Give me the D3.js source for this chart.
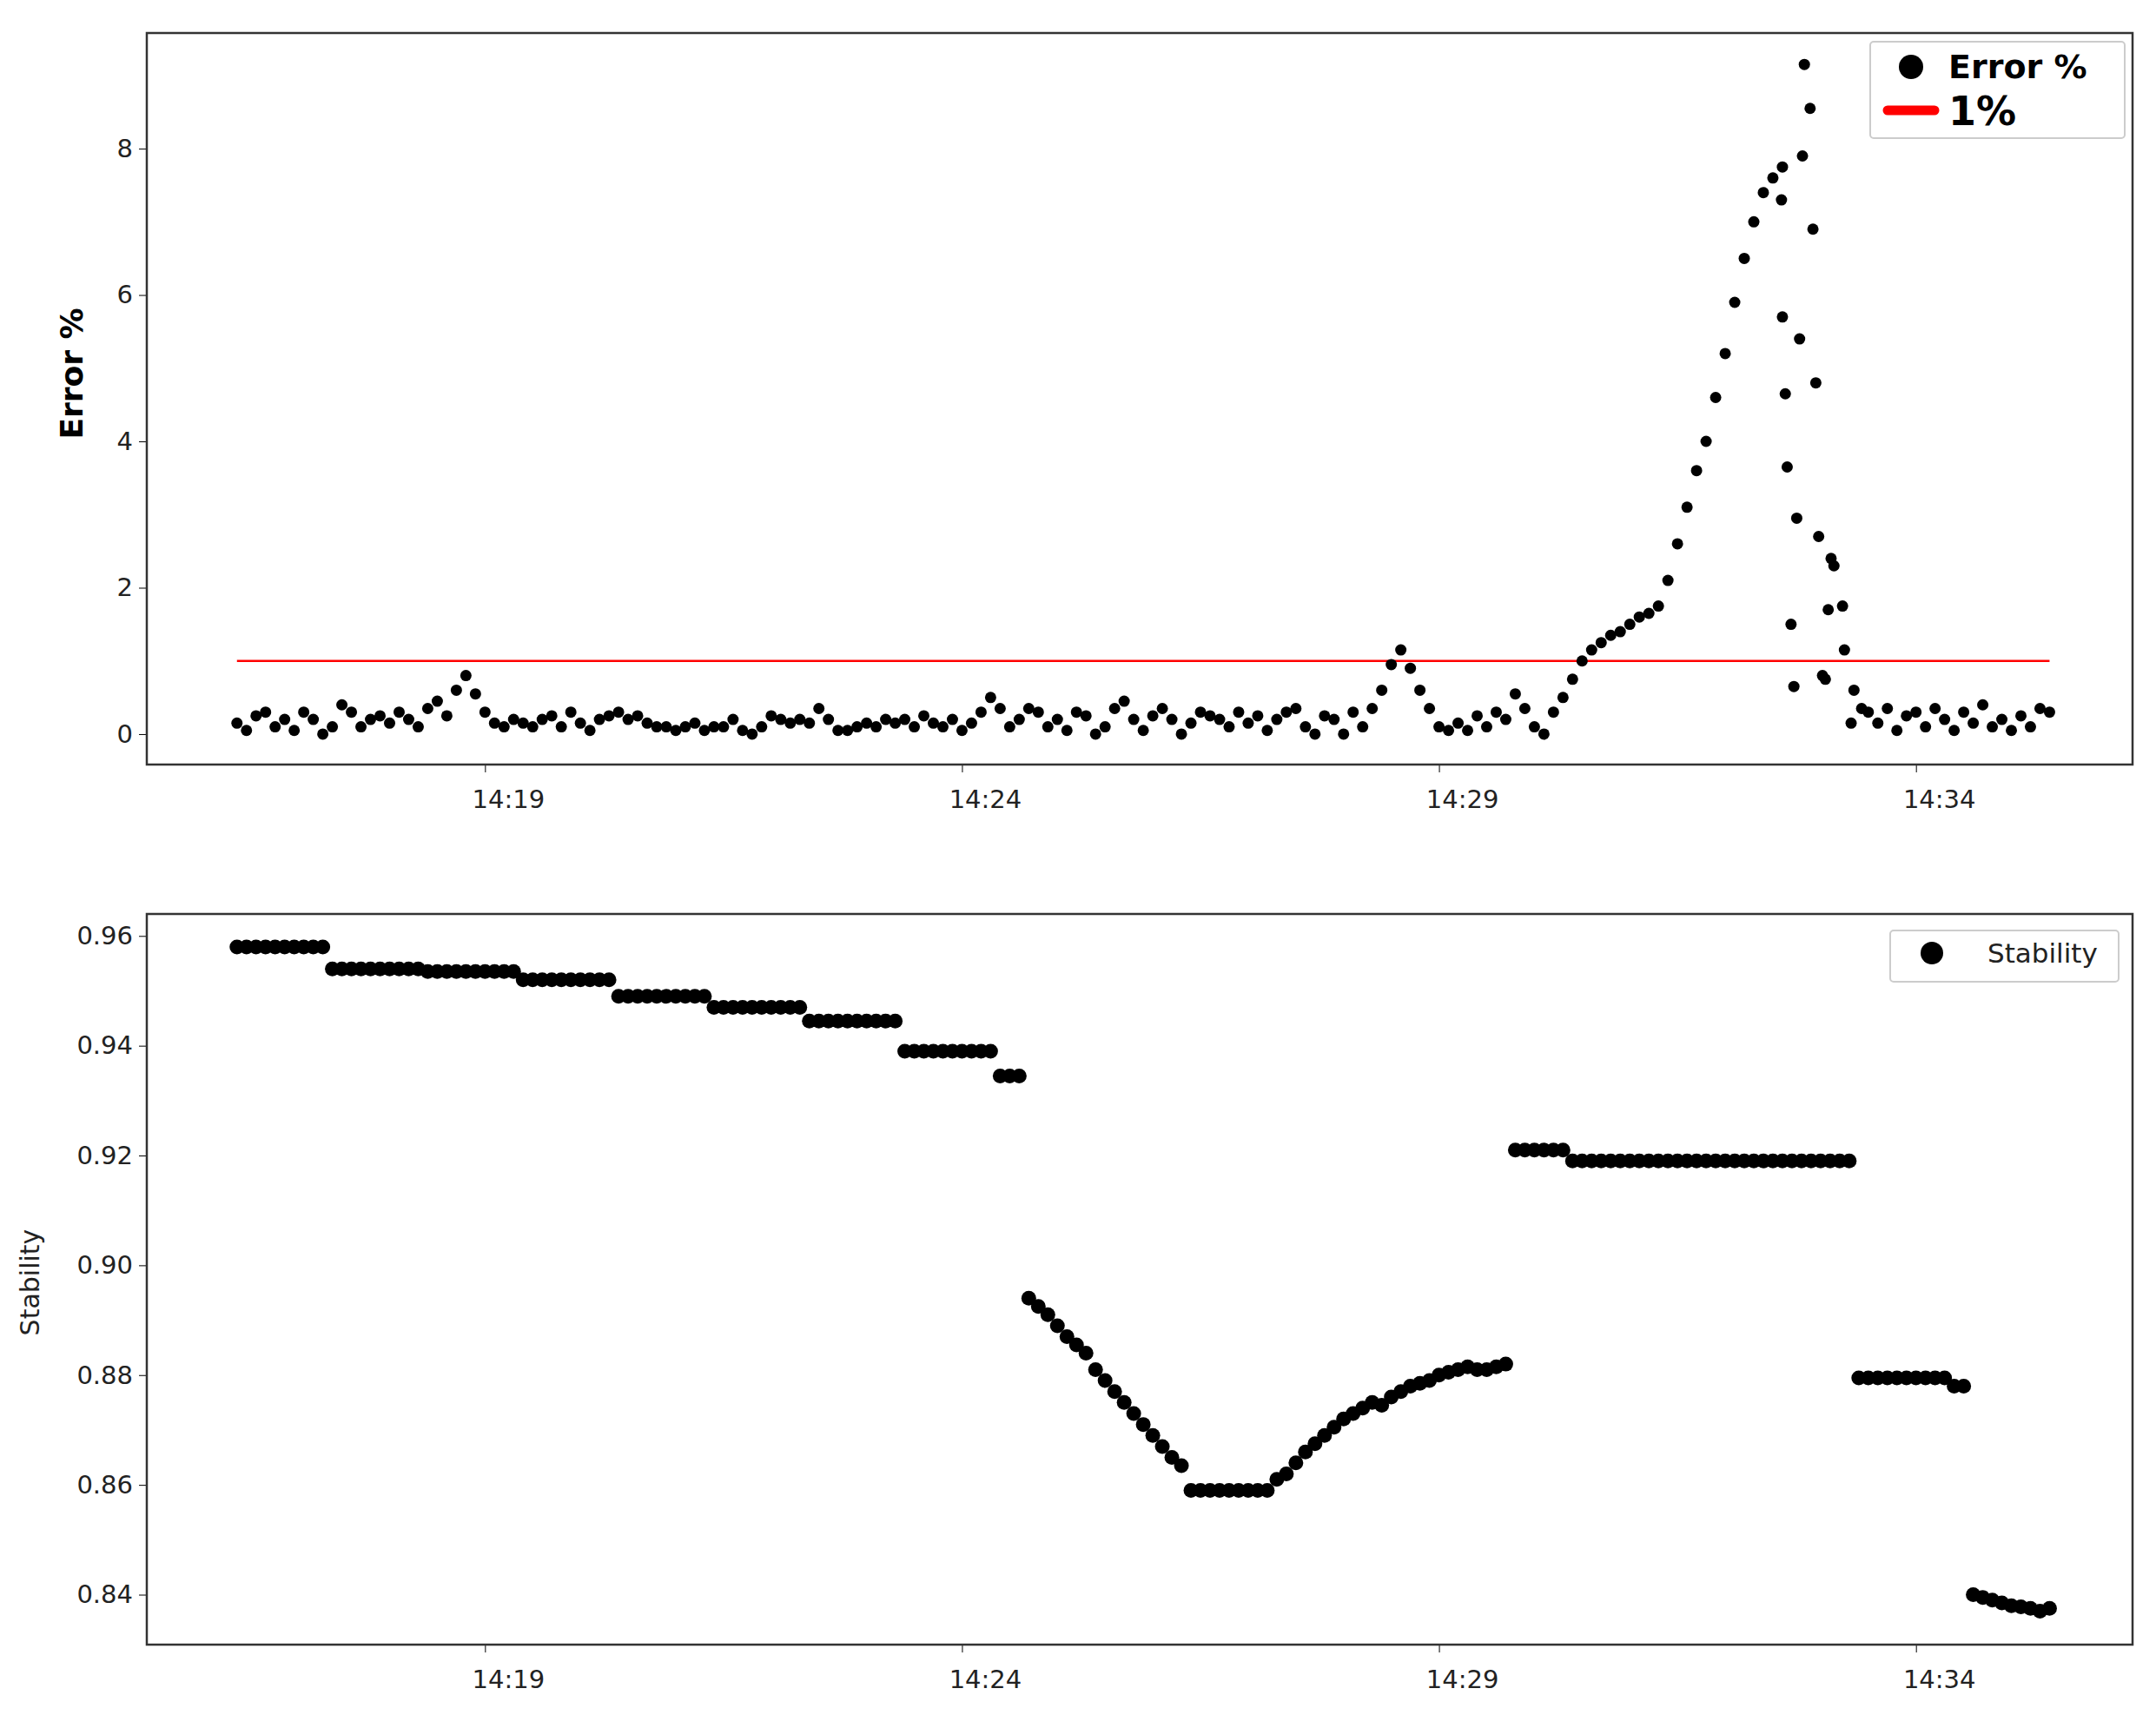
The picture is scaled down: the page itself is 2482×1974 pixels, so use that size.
<!DOCTYPE html>
<html>
<head>
<meta charset="utf-8">
<script src="https://cdn.jsdelivr.net/npm/d3@7"></script>
<style>
body { margin: 0; background: #fff; }
text { font-family: "DejaVu Sans", sans-serif; }
</style>
</head>
<body>
<script>
var width = 2482, height = 1974;
// time axis: minutes after 14:00, one sample every 6 seconds from 14:16.4
var t0 = 16.4, step = 0.1;
var tickMinutes = [19, 24, 29, 34];
var tickLabels = ['14:19', '14:24', '14:29', '14:34'];
var errTicks = [0, 2, 4, 6, 8];
var stabTicks = [0.84, 0.86, 0.88, 0.90, 0.92, 0.94, 0.96];
var threshold = 1;

var errValues = [
	0.15,0.05,0.25,0.3,0.1,0.2,0.05,0.3,0.2,0.0,0.1,0.4,0.3,0.1,0.2,0.25,0.15,0.3,0.2,0.1,0.35,0.45,0.25,
	0.6,0.8,0.55,0.3,
	0.15,0.1,0.2,0.15,0.1,0.2,0.25,0.1,0.3,0.15,0.05,0.2,0.25,0.3,0.2,0.25,0.15,0.1,0.1,0.05,0.1,0.15,0.05,0.1,0.1,0.2,0.05,0.0,0.1,0.25,0.2,0.15,0.2,0.15,
	0.35,0.2,0.05,0.05,0.1,0.15,0.1,0.2,0.15,0.2,0.1,0.25,0.15,0.1,0.2,0.05,0.15,0.3,0.5,0.35,
	0.1,0.2,0.35,0.3,0.1,0.2,0.05,0.3,0.25,0.0,0.1,0.35,0.45,0.2,0.05,0.25,0.35,0.2,0.0,0.15,0.3,0.25,0.2,0.1,0.3,0.15,0.25,0.05,0.2,0.3,0.35,0.1,0.0,0.25,0.2,0.0,0.3,0.1,
	0.35,0.6,0.95,1.15,0.9,0.6,0.35,0.1,0.05,
	0.15,0.05,0.25,0.1,0.3,0.2,0.55,0.35,0.1,0.0,0.3,0.5,0.75,
	1.0,1.15,1.25,1.35,1.4,1.5,1.6,1.65,1.75,2.1,2.6,3.1,3.6,4.0,4.6,5.2,5.9,6.5,7.0,7.4,7.6,7.75,
	null,null,null,null,null,null,null,null,
	0.3,0.15,0.35,0.05,0.25,0.3,0.1,0.35,0.2,0.05,0.3,0.15,0.4,0.1,0.2,0.05,0.25,0.1,0.35,0.3
];
// scattered samples after the peak
var errExtraTimes = [32.59,32.83,32.89,32.81,32.92,32.60,32.63,32.65,32.75,32.69,32.72,32.78,32.95,32.98,33.11,33.14,33.08,33.23,33.25,33.02,33.05,33.35,33.43,33.32];
var errExtraValues = [7.3,9.15,8.55,7.9,6.9,5.7,4.65,3.65,2.95,1.5,0.65,5.4,4.8,2.7,2.4,2.3,1.7,1.75,1.15,0.8,0.75,0.6,0.35,0.15];

var stabValues = [
	0.958,0.958,0.958,0.958,0.958,0.958,0.958,0.958,0.958,0.958,
	0.954,0.954,0.954,0.954,0.954,0.954,0.954,0.954,0.954,0.954,
	0.9535,0.9535,0.9535,0.9535,0.9535,0.9535,0.9535,0.9535,0.9535,0.9535,
	0.952,0.952,0.952,0.952,0.952,0.952,0.952,0.952,0.952,0.952,
	0.949,0.949,0.949,0.949,0.949,0.949,0.949,0.949,0.949,0.949,
	0.947,0.947,0.947,0.947,0.947,0.947,0.947,0.947,0.947,0.947,
	0.9445,0.9445,0.9445,0.9445,0.9445,0.9445,0.9445,0.9445,0.9445,0.9445,
	0.939,0.939,0.939,0.939,0.939,0.939,0.939,0.939,0.939,0.939,
	0.9345,0.9345,0.9345,
	0.894,0.8925,0.891,0.889,0.887,0.8855,0.884,
	0.881,0.879,0.877,0.875,0.873,0.871,0.869,0.867,0.865,0.8635,
	0.859,0.859,0.859,0.859,0.859,0.859,0.859,0.859,0.859,0.861,
	0.862,0.864,0.866,0.8675,0.869,0.8705,0.872,0.873,0.874,0.875,0.8745,0.876,0.877,0.878,0.8785,0.879,0.880,0.8805,0.881,0.8815,0.881,0.881,0.8815,0.882,
	0.921,0.921,0.921,0.921,0.921,0.921,
	0.919,0.919,0.919,0.919,0.919,0.919,0.919,0.919,0.919,0.919,0.919,0.919,0.919,0.919,0.919,
	0.919,0.919,0.919,0.919,0.919,0.919,0.919,0.919,0.919,0.919,0.919,0.919,0.919,0.919,0.919,
	0.8795,0.8795,0.8795,0.8795,0.8795,0.8795,0.8795,0.8795,0.8795,0.8795,
	0.878,0.878,
	0.840,0.8395,0.839,0.8385,0.838,0.8378,0.8375,0.837,0.8375
];

var errData = errValues.map(function(v, i) { return {t: t0 + i * step, v: v}; })
	.filter(function(d) { return d.v !== null; })
	.concat(errExtraTimes.map(function(t, i) { return {t: t, v: errExtraValues[i]}; }));
var stabData = stabValues.map(function(v, i) { return {t: t0 + i * step, v: v}; });

var svg = d3.select('body').append('svg').attr('width', width).attr('height', height);
var left = 169, right = 2455;
var x = d3.scaleLinear().domain([15.455, 36.27]).range([left, right]);

function panel(top, bottom, yDomain, yTicks, fmt) {
	var y = d3.scaleLinear().domain(yDomain).range([bottom, top]);
	var g = svg.append('g');
	g.append('g').attr('transform', 'translate(0,' + bottom + ')')
		.call(d3.axisBottom(x).tickValues(tickMinutes).tickSize(9).tickFormat(''));
	g.append('g').attr('transform', 'translate(' + left + ',0)')
		.call(d3.axisLeft(y).tickValues(yTicks).tickSize(9).tickFormat(fmt))
		.selectAll('text').style('font-size', '29px').attr('dx', '-4').attr('fill', '#222');
	g.selectAll('.domain').remove();
	g.selectAll('.tl').data(tickMinutes).enter().append('text')
		.attr('x', function(d) { return x(d) + 27; }).attr('y', bottom + 50)
		.attr('text-anchor', 'middle').style('font-size', '29px').attr('fill', '#222')
		.text(function(d, i) { return tickLabels[i]; });
	g.append('rect').attr('x', left).attr('y', top).attr('width', right - left).attr('height', bottom - top)
		.attr('fill', 'none').attr('stroke', '#333').attr('stroke-width', 2.5);
	return {g: g, y: y};
}

// Error panel
var p1 = panel(38, 880, [-0.416, 9.58], errTicks, d3.format('d'));
p1.g.append('line').attr('x1', x(t0)).attr('x2', x(t0 + 190 * step))
	.attr('y1', p1.y(threshold)).attr('y2', p1.y(threshold))
	.attr('stroke', 'red').attr('stroke-width', 2.5);
p1.g.selectAll('.e').data(errData).enter().append('circle')
	.attr('cx', function(d) { return x(d.t); }).attr('cy', function(d) { return p1.y(d.v); })
	.attr('r', 6.5).attr('fill', '#000');
svg.append('text').attr('transform', 'translate(95,430) rotate(-90)')
	.attr('text-anchor', 'middle').style('font-size', '36px').style('font-weight', 'bold').text('Error %');
var l1 = svg.append('g');
l1.append('rect').attr('x', 2153).attr('y', 48).attr('width', 293).attr('height', 111)
	.attr('fill', '#fff').attr('stroke', '#ccc').attr('stroke-width', 2).attr('rx', 4);
l1.append('circle').attr('cx', 2200).attr('cy', 77).attr('r', 14).attr('fill', '#000');
l1.append('text').attr('x', 2243).attr('y', 90).style('font-size', '38px').style('font-weight', 'bold').text('Error %');
l1.append('line').attr('x1', 2173).attr('x2', 2227).attr('y1', 127).attr('y2', 127)
	.attr('stroke', 'red').attr('stroke-width', 11).attr('stroke-linecap', 'round');
l1.append('text').attr('x', 2243).attr('y', 144).style('font-size', '46px').style('font-weight', 'bold').text('1%');

// Stability panel
var p2 = panel(1052, 1893, [0.8309, 0.964], stabTicks, d3.format('.2f'));
p2.g.selectAll('.s').data(stabData).enter().append('circle')
	.attr('cx', function(d) { return x(d.t); }).attr('cy', function(d) { return p2.y(d.v); })
	.attr('r', 8.5).attr('fill', '#000');
svg.append('text').attr('transform', 'translate(45,1476) rotate(-90)')
	.attr('text-anchor', 'middle').style('font-size', '30px').attr('fill', '#222').text('Stability');
var l2 = svg.append('g');
l2.append('rect').attr('x', 2176).attr('y', 1071).attr('width', 263).attr('height', 59)
	.attr('fill', '#fff').attr('stroke', '#ccc').attr('stroke-width', 2).attr('rx', 4);
l2.append('circle').attr('cx', 2224).attr('cy', 1097).attr('r', 13).attr('fill', '#000');
l2.append('text').attr('x', 2288).attr('y', 1108).style('font-size', '31px').attr('fill', '#222').text('Stability');
</script>
</body>
</html>
